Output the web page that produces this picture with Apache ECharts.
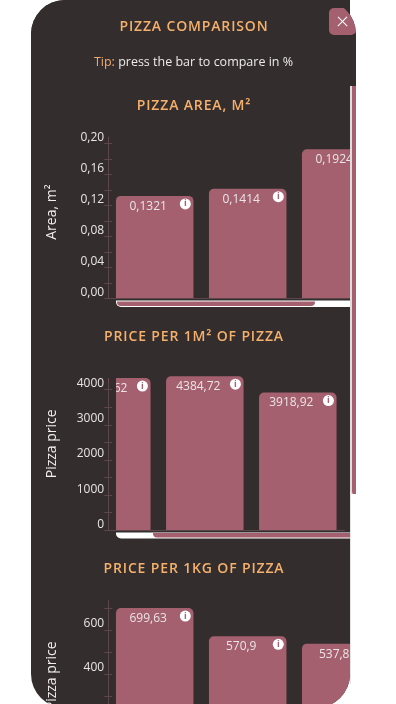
<!DOCTYPE html>
<html>
<head>
<meta charset="utf-8">
<title>Pizza comparison</title>
<script src="https://cdn.jsdelivr.net/npm/echarts@6/dist/echarts.min.js"></script>
<style>
  html, body { margin:0; padding:0; width:396px; height:704px; background:#fff; overflow:hidden; font-family:"Open Sans",sans-serif; }
  #clip { position:absolute; left:31px; top:0; width:319px; height:708px; background:#332d2e; border-radius:34px 0 34px 34px; overflow:hidden; }
  #chart { position:absolute; left:-31px; top:0; width:396px; height:704px; }
  #head { position:absolute; left:31px; top:0; width:325px; height:86px; background:#332d2e; border-radius:34px 34px 0 0; overflow:hidden; }
  #close { position:absolute; left:298px; top:8px; width:27px; height:27px; background:#a5606f; border-radius:5px; }
  #close:before, #close:after { content:""; position:absolute; left:7px; top:12.8px; width:13px; height:1.3px; background:#fff; }
  #close:before { transform:rotate(45deg); }
  #close:after { transform:rotate(-45deg); }
  #thumb { position:absolute; left:350px; top:86px; width:4px; height:408px; background:#a5606f; border-left:2px solid #ddd; border-radius:0 0 0 3px; }
  #track { position:absolute; left:350px; top:494px; width:1px; height:190px; background:#e4e4e4; }
  .heading { position:absolute; left:0; width:388px; text-align:center; color:#f5b06c; font-size:14px; font-weight:600; letter-spacing:0.85px; line-height:20px; }
  #tip { position:absolute; left:0; width:325px; top:52px; text-align:center; color:#eeeaea; font-size:12.5px; line-height:20px; }
  #tip span { color:#f0ab6c; }
</style>
</head>
<body>
<div id="clip">
  <div id="chart"></div>
  <div class="heading" style="left:-31px;top:95px">PIZZA AREA, M²</div>
  <div class="heading" style="left:-31px;top:326px">PRICE PER 1M² OF PIZZA</div>
  <div class="heading" style="left:-31px;top:558px">PRICE PER 1KG OF PIZZA</div>
</div>
<div id="head">
  <div class="heading" style="left:-31px;top:16px">PIZZA COMPARISON</div>
  <div id="tip"><span>Tip:</span> press the bar to compare in %</div>
  <div id="close"></div>
</div>
<div id="thumb"></div>
<div id="track"></div>
<script>
//数据
var pizzaNames = ['Pizza 1', 'Pizza 2', 'Pizza 3'];
var areaValues = [0.1321, 0.1414, 0.1924];
var priceM2Values = [4330.62, 4384.72, 3918.92];
var priceKgValues = [699.63, 570.9, 537.8];

var areaTicks = [0, 0.02, 0.04, 0.06, 0.08, 0.10, 0.12, 0.14, 0.16, 0.18, 0.20];
var areaLabels = [0, 0.04, 0.08, 0.12, 0.16, 0.20];
var priceM2Ticks = [0, 500, 1000, 1500, 2000, 2500, 3000, 3500, 4000];
var priceM2Labels = [0, 1000, 2000, 3000, 4000];
var priceKgTicks = [300, 400, 500, 600, 700];
var priceKgLabels = [400, 600];

var barColor = '#a5606f';
var darkColor = '#332d2e';
var lineColor = '#5c454b';
var textColor = '#e9e5e5';

function comma(v) {
  return String(v).replace('.', ',');
}

var grids = [], xAxes = [], yAxes = [], series = [];

//每个图表 = 一个grid + 两个y轴(刻度穿过轴线)
function addChart(cfg) {
  var i = grids.length;
  grids.push({ left: cfg.left, top: cfg.top, width: 279, height: cfg.height, containLabel: false, outerBoundsMode: 'none' });
  xAxes.push({
    type: 'category', gridIndex: i, data: pizzaNames, z: 4,
    axisLine: { lineStyle: { color: lineColor, width: 1 } },
    axisTick: { show: false }, axisLabel: { show: false }
  });
  yAxes.push({
    type: 'value', gridIndex: i, position: 'left', min: 0, max: cfg.max, offset: cfg.offset, z: 6,
    name: cfg.name, nameLocation: 'middle', nameGap: cfg.nameGap,
    nameTextStyle: { color: '#f2efef', fontSize: 14, fontFamily: 'Open Sans', padding: [0, 0, 0, cfg.namePad] },
    splitLine: { show: false },
    axisLine: { show: true, lineStyle: { color: lineColor } },
    axisTick: { show: true, length: 4, customValues: cfg.ticks, lineStyle: { color: lineColor } },
    axisLabel: {
      color: textColor, fontSize: 12, fontFamily: 'Open Sans', margin: 4, verticalAlign: 'bottom', lineHeight: 12,
      customValues: cfg.labels, formatter: cfg.format
    }
  });
  yAxes.push({
    type: 'value', gridIndex: i, position: 'left', min: 0, max: cfg.max, offset: cfg.offset, z: 6,
    splitLine: { show: false }, axisLine: { show: false }, axisLabel: { show: false },
    axisTick: { show: true, inside: true, length: 4, customValues: cfg.ticks, lineStyle: { color: lineColor } }
  });
  series.push({
    type: 'bar', xAxisIndex: i, yAxisIndex: i * 2, data: cfg.values, barWidth: 77.5, clip: false, z: 2,
    itemStyle: { color: barColor, borderRadius: [5, 5, 0, 0] },
    label: {
      show: true, position: 'insideTop', distance: 4, offset: [-6.5, 0.5],
      color: textColor, fontSize: 12, fontFamily: 'Open Sans',
      formatter: function (p) { return comma(p.value); }
    }
  });
  //info图标
  series.push({
    type: 'scatter', xAxisIndex: i, yAxisIndex: i * 2, data: cfg.values, clip: false, z: 2.5,
    symbol: 'circle', symbolSize: 11, symbolOffset: [30.6, 8],
    itemStyle: { color: '#fff', opacity: 1 },
    label: {
      show: true, position: 'inside', formatter: 'i',
      color: barColor, fontSize: 9, fontWeight: 'bold', fontFamily: 'Open Sans'
    }
  });
}

addChart({
  left: 108.2, offset: 0, top: 137, height: 161.3, max: 0.2081,
  values: areaValues, ticks: areaTicks, labels: areaLabels,
  name: 'Area, m²', nameGap: 49, namePad: 11,
  format: function (v) { return v.toFixed(2).replace('.', ','); }
});
addChart({
  left: 65.3, offset: -42.9, top: 383.3, height: 147, max: 4182,
  values: priceM2Values, ticks: priceM2Ticks, labels: priceM2Labels,
  name: 'Pizza price', nameGap: 49, namePad: 26,
  format: function (v) { return String(v); }
});
addChart({
  left: 108.2, offset: 0, top: 600.7, height: 161.3, max: 733,
  values: priceKgValues, ticks: priceKgTicks, labels: priceKgLabels,
  name: 'Pizza price', nameGap: 49, namePad: 11,
  format: function (v) { return String(v); }
});

//滚动条和遮罩
var graphics = [
  { type: 'rect', z: 5, shape: { x: 31, y: 370, width: 77.2, height: 170 }, style: { fill: darkColor } },
  { type: 'rect', z: 3, shape: { x: 108.7, y: 370, width: 7.3, height: 160 }, style: { fill: darkColor } },
  { type: 'rect', z: 7, shape: { x: 116, y: 300.5, width: 240, height: 6.5, r: [0, 0, 0, 5] }, style: { fill: '#fff' } },
  { type: 'rect', z: 8, shape: { x: 117, y: 301.5, width: 198, height: 4.5, r: [0, 0, 4, 4] }, style: { fill: barColor } },
  { type: 'rect', z: 7, shape: { x: 116, y: 532.5, width: 240, height: 6, r: [0, 0, 0, 5] }, style: { fill: '#fff' } },
  { type: 'rect', z: 8, shape: { x: 153, y: 533, width: 200, height: 4.5, r: [0, 0, 0, 4] }, style: { fill: barColor } }
];

var myChart = echarts.init(document.getElementById('chart'));
myChart.setOption({
  animation: false,
  backgroundColor: 'transparent',
  grid: grids,
  xAxis: xAxes,
  yAxis: yAxes,
  series: series,
  graphic: graphics
});
</script>
</body>
</html>
